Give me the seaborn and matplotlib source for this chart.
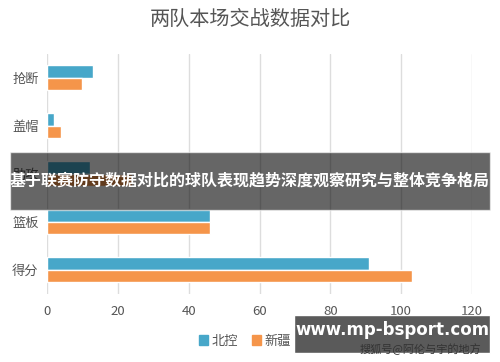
import matplotlib
matplotlib.use('Agg')
import matplotlib.pyplot as plt
import pandas as pd
import seaborn as sns

# 数据
categories = ['抢断', '盖帽', '助攻', '篮板', '得分']
teams = ['北控', '新疆']
beikong = [13, 2, 12, 46, 91]
xinjiang = [10, 4, 24, 46, 103]
xticks = [0, 20, 40, 60, 80, 100, 120]

df = pd.DataFrame({
    '项目': categories * 2,
    '数值': beikong + xinjiang,
    '球队': [teams[0]] * len(categories) + [teams[1]] * len(categories),
})

sns.set_style('white')
plt.rcParams['font.family'] = ['Noto Sans CJK SC', 'DejaVu Sans']

fig = plt.figure(figsize=(5, 3.62), dpi=100)
ax = fig.add_axes([0.094, 0.188, 0.85, 0.663])

sns.barplot(data=df, x='数值', y='项目', hue='球队', orient='h',
            palette=['#47a7c9', '#f5954a'], saturation=1, width=0.52, ax=ax,
            legend=False, zorder=3)

ax.set_xlim(0, 120)
ax.set_xticks(xticks)
ax.grid(axis='x', color='#dddddd', linewidth=1, zorder=0)
for s in ax.spines.values():
    s.set_visible(False)
ax.set_xlabel('')
ax.set_ylabel('')
ax.tick_params(axis='both', length=0, labelsize=9.5, colors='#555555')
ax.tick_params(axis='x', pad=8)
ax.tick_params(axis='y', pad=6)

fig.text(0.5, 0.945, '两队本场交战数据对比', ha='center', va='center',
         fontsize=14.5, color='#555555')

# 图例
handles = [plt.Rectangle((0, 0), 1, 1, color=c) for c in ['#47a7c9', '#f5954a']]
fig.legend(handles, teams, loc='center', bbox_to_anchor=(0.49, 0.058), ncol=2,
           frameon=False, fontsize=9.5, handlelength=0.7, handleheight=0.7,
           handletextpad=0.3, columnspacing=1.0, labelcolor='#555555')

# 横幅
fig.patches.append(plt.Rectangle((0.02, 0.42), 0.96, 0.16, transform=fig.transFigure,
                                 facecolor='black', alpha=0.6, zorder=5))
fig.text(0.5, 0.5, '基于联赛防守数据对比的球队表现趋势深度观察研究与整体竞争格局',
         ha='center', va='center', fontsize=11.5, fontweight='bold',
         color='white', zorder=6)

# 水印
fig.patches.append(plt.Rectangle((0.588, 0.025), 0.392, 0.105, transform=fig.transFigure,
                                 facecolor='#5a5a5a', zorder=5))
fig.text(0.784, 0.088, 'www.mp-bsport.com', ha='center', va='center',
         fontsize=12, fontweight='bold', color='white', family='DejaVu Sans', zorder=6)
fig.text(0.84, 0.035, '搜狐号@阿伦与宇的地方', ha='center', va='center',
         fontsize=8, color='#333333', zorder=7)

fig.savefig('out.png', dpi=100)
